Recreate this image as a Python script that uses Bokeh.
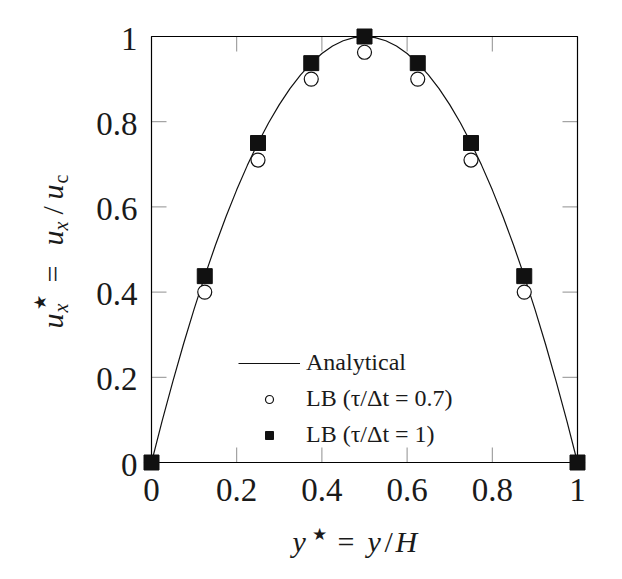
import math
from bokeh.plotting import figure
from bokeh.models import Range1d, Label, Legend, LegendItem
from bokeh.core.properties import value
from bokeh.embed import file_html
from bokeh.resources import INLINE

# ---------------- data ----------------
y_star = [0.0, 0.125, 0.25, 0.375, 0.5, 0.625, 0.75, 0.875, 1.0]
u_lb_tau07 = [0.0, 0.40, 0.71, 0.90, 0.963, 0.90, 0.71, 0.40, 0.0]
u_lb_tau1 = [0.0, 0.4375, 0.75, 0.9375, 1.0, 0.9375, 0.75, 0.4375, 0.0]

y_analytical = [0.0, 0.025, 0.05, 0.075, 0.1, 0.125, 0.15, 0.175, 0.2, 0.225,
                0.25, 0.275, 0.3, 0.325, 0.35, 0.375, 0.4, 0.425, 0.45, 0.475,
                0.5, 0.525, 0.55, 0.575, 0.6, 0.625, 0.65, 0.675, 0.7, 0.725,
                0.75, 0.775, 0.8, 0.825, 0.85, 0.875, 0.9, 0.925, 0.95, 0.975, 1.0]
u_analytical = [0.0, 0.0975, 0.19, 0.2775, 0.36, 0.4375, 0.51, 0.5775, 0.64, 0.6975,
                0.75, 0.7975, 0.84, 0.8775, 0.91, 0.9375, 0.96, 0.9775, 0.99, 0.9975,
                1.0, 0.9975, 0.99, 0.9775, 0.96, 0.9375, 0.91, 0.8775, 0.84, 0.7975,
                0.75, 0.6975, 0.64, 0.5775, 0.51, 0.4375, 0.36, 0.2775, 0.19, 0.0975, 0.0]

ticks = [0, 0.2, 0.4, 0.6, 0.8, 1]
tick_labels = ["0", "0.2", "0.4", "0.6", "0.8", "1"]

legend_labels = ["Analytical", "LB (\u03c4/\u0394t = 0.7)", "LB (\u03c4/\u0394t = 1)"]

# ---------------- styling / layout ----------------
FONT = "Liberation Serif"
TXT = "#1a1a1a"
W, H = 614, 571
PX = 426.0                 # pixels per data unit
X0, Y0 = 151.0, 462.0      # canvas pixel of data (0, 0)
TICK_LEN = 15 / PX
TICK_COLOR = "#8f8f8f"


def dx(xp):
    return (xp - X0) / PX


def dy(yp):
    return (Y0 - yp) / PX


p = figure(width=W, height=H, output_backend="svg", toolbar_location=None,
           x_range=Range1d(dx(0), dx(W)), y_range=Range1d(dy(H), dy(0)),
           x_axis_location=None, y_axis_location=None,
           min_border=0)
p.outline_line_color = None
p.grid.visible = False
p.background_fill_color = "white"
p.border_fill_color = "white"

n = len(ticks)
lo, hi = ticks[0], ticks[-1]

# inward ticks on all four sides
p.segment(x0=ticks, y0=[lo] * n, x1=ticks, y1=[lo + TICK_LEN] * n,
          line_color=TICK_COLOR, line_width=1)
p.segment(x0=ticks, y0=[hi] * n, x1=ticks, y1=[hi - TICK_LEN] * n,
          line_color=TICK_COLOR, line_width=1)
p.segment(x0=[lo] * n, y0=ticks, x1=[lo + TICK_LEN] * n, y1=ticks,
          line_color=TICK_COLOR, line_width=1)
p.segment(x0=[hi] * n, y0=ticks, x1=[hi - TICK_LEN] * n, y1=ticks,
          line_color=TICK_COLOR, line_width=1)

# frame box
p.quad(left=[lo], right=[hi], bottom=[lo], top=[hi], fill_color=None,
       line_color="black", line_width=1.2)

# tick labels
p.text(x=ticks, y=[lo - 27 / PX] * n, text=tick_labels, text_font=value(FONT),
       text_font_size="33px", text_color=TXT, text_align="center",
       text_baseline="alphabetic")
p.text(x=[lo - 14 / PX] * n, y=[t - 2 / PX for t in ticks], text=tick_labels,
       text_font=value(FONT), text_font_size="33px", text_color=TXT,
       text_align="right", text_baseline="alphabetic")

# series
r_line = p.line(y_analytical, u_analytical, line_color="#111111", line_width=1.2)
r_circ = p.scatter(y_star, u_lb_tau07, marker="circle", size=14, fill_color="white",
                   line_color="#111111", line_width=1.2)
r_sq = p.scatter(y_star, u_lb_tau1, marker="square", size=15, fill_color="#111111",
                 line_color="#111111", line_width=1)

legend = Legend(items=[LegendItem(label=legend_labels[0], renderers=[r_line]),
                       LegendItem(label=legend_labels[1], renderers=[r_circ]),
                       LegendItem(label=legend_labels[2], renderers=[r_sq])],
                location=(238, 123), orientation="vertical",
                glyph_width=62, glyph_height=20, label_height=20, spacing=9,
                label_standoff=6, padding=0, margin=0,
                border_line_color=None, background_fill_alpha=0,
                label_text_font=FONT, label_text_font_size="24px",
                label_text_color=TXT)
p.add_layout(legend, "center")


# axis titles composed of pieces (super/subscripts)
def lab(xp, yp, text, size, italic=False, angle=0.0, align="left", baseline="alphabetic"):
    p.add_layout(Label(x=dx(xp), y=dy(yp), text=text,
                       text_font=FONT, text_font_size=size,
                       text_font_style="italic" if italic else "normal",
                       text_color=TXT, angle=angle, text_align=align,
                       text_baseline=baseline))


# x title: y* = y/H
lab(292, 541, "y", "30px", italic=True)
lab(318.5, 534, "\u2605", "17px", align="center", baseline="middle")
lab(337, 541, "=", "30px")
lab(367, 541, "y", "30px", italic=True)
lab(384, 541, "/", "30px")
lab(395, 541, "H", "30px", italic=True)

# y title: u*_x = u_x / u_c (rotated)
A = math.pi / 2
lab(52, 328, "u", "30px", italic=True, angle=A)
lab(40, 302, "\u2605", "17px", angle=A, align="center", baseline="middle")
lab(60, 312, "x", "20px", italic=True, angle=A)
lab(52, 282, "=", "30px", angle=A)
lab(52, 245, "u", "30px", italic=True, angle=A)
lab(60, 230, "x", "20px", italic=True, angle=A)
lab(52, 214, "/", "30px", angle=A)
lab(52, 199, "u", "30px", italic=True, angle=A)
lab(60, 183, "c", "20px", angle=A)

open("out.html", "w").write(file_html(p, INLINE))
